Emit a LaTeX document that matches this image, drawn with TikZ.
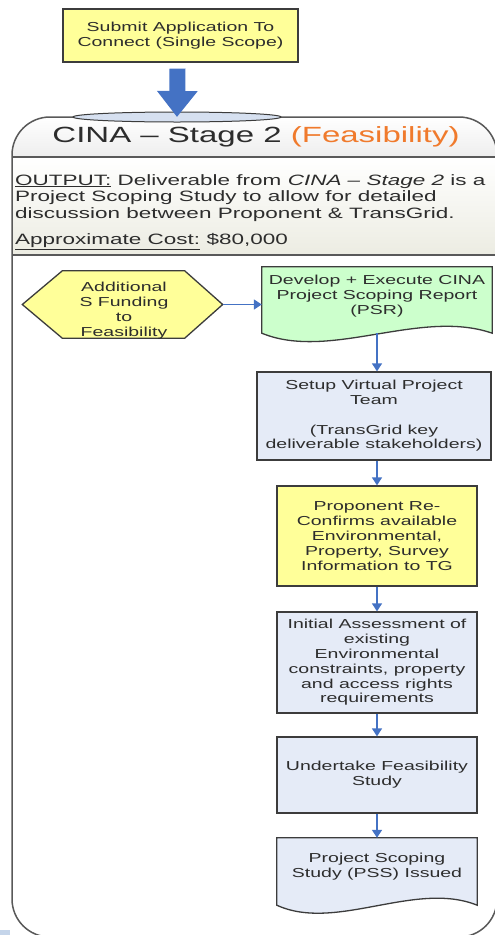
\documentclass[tikz,border=0pt]{standalone}
\usepackage{fontspec}
\setmainfont{Liberation Sans}[FakeStretch=1.5]
\usetikzlibrary{arrows.meta,shapes.geometric,calc}
\definecolor{boxyellow}{RGB}{255,255,153}
\definecolor{boxgreen}{RGB}{204,255,204}
\definecolor{boxblue}{RGB}{229,235,247}
\definecolor{flowblue}{RGB}{68,114,196}
\definecolor{capblue}{RGB}{214,224,240}
\definecolor{titleorange}{RGB}{240,122,44}
\definecolor{txt}{RGB}{45,45,45}
\definecolor{edge}{RGB}{60,60,60}
\definecolor{artifact}{RGB}{197,213,234}
\pgfdeclarelayer{back}
\pgfdeclarelayer{mid}
\pgfsetlayers{back,mid,main}
\newcommand\bodyfont{\fontsize{13pt}{14.8pt}\selectfont}
\newcommand\outfont{\fontsize{15pt}{16.5pt}\selectfont}
\newcommand\titlefont{\fontsize{22pt}{24pt}\selectfont}
\tikzset{
  frameline/.style={draw=edge!85, line width=1.5pt},
  boxbase/.style={draw=edge, line width=1.3pt, inner sep=0pt, align=center, font=\bodyfont, text=txt},
  yellowbox/.style={boxbase, fill=boxyellow},
  bluebox/.style={boxbase, fill=boxblue},
  shapeholder/.style={inner sep=0pt},
  plaintext/.style={align=center, font=\bodyfont, text=txt, inner sep=0pt},
  docline/.style={draw=edge, line width=1.3pt},
  flow/.style={draw=flowblue, line width=1.5pt, -{Triangle[width=10pt,length=8pt]}},
  bigarrow/.style={draw=flowblue, line width=16pt, -{Triangle[width=39pt,length=26pt]}},
}
\begin{document}
\begin{tikzpicture}[x=1pt,y=-1pt]
\useasboundingbox (0,0) rectangle (495,935);

% container
\begin{pgfonlayer}{back}
  \path[fill=white,rounded corners=38pt] (12,937) -- (12,117) -- (497,117) -- (497,937) -- cycle;
  \begin{scope}
    \clip[rounded corners=38pt] (12,937) -- (12,117) -- (497,117) -- (497,937) -- cycle;
    \shade[top color=white,bottom color=gray!14] (0,117) rectangle (497,157);
    \shade[top color=white,bottom color={rgb,255:red,236;green,236;blue,226}] (0,157) rectangle (497,255);
  \end{scope}
  \draw[frameline] (12,157) -- (497,157);
  \draw[frameline] (12,255) -- (497,255);
  \draw[frameline,rounded corners=38pt] (12,937) -- (12,117) -- (497,117) -- (497,937) -- cycle;
  \fill[artifact] (0,930) rectangle (10,935);
\end{pgfonlayer}

% top
\node[yellowbox, minimum width=235pt, minimum height=53pt] (submit) at (180.5,35.5)
  {Submit Application To\\Connect (Single Scope)};
\node[ellipse, draw=edge, line width=1pt, fill=capblue, minimum width=208pt, minimum height=10pt, inner sep=0pt] (cap) at (177,117) {};
\draw[bigarrow] ([xshift=-3pt,yshift=-6pt]submit.south) -- (cap.center);

% title and output
\node[inner sep=0pt, text=txt, font=\titlefont] (title) at (256,137)
  {CINA – Stage 2 \textcolor{titleorange}{(Feasibility)}};
\node[inner sep=0pt, anchor=west, align=left, font=\outfont, text=txt] (output) at (15,212)
  {\underline{OUTPUT:} Deliverable from \textit{CINA – Stage 2} is a\\
   Project Scoping Study to allow for detailed\\
   discussion between Proponent \& TransGrid.\\[10pt]
   \underline{Approximate Cost:} \$80,000};

% hexagon
\node[shapeholder, minimum width=200pt, minimum height=67pt] (fund) at (122.5,304.5) {};
\node[plaintext] (fundtext) at (124,310.5) {Additional\\S Funding\\to\\Feasibility};
\begin{pgfonlayer}{mid}
  \draw[docline, fill=boxyellow] ([xshift=40pt]fund.north west) -- ([xshift=-38pt]fund.north east)
    -- (fund.east) -- ([xshift=-38pt]fund.south east) -- ([xshift=40pt]fund.south west)
    -- (fund.west) -- cycle;
\end{pgfonlayer}

% PSR document
\node[shapeholder, minimum width=230pt, minimum height=66pt] (psr) at (377,300) {};
\node[plaintext] (psrtext) at (377,296) {Develop + Execute CINA\\Project Scoping Report\\(PSR)};
\begin{pgfonlayer}{mid}
  \draw[docline, fill=boxgreen] (psr.south west) -- (psr.north west) -- (psr.north east) -- (psr.south east)
    .. controls ([xshift=-72pt,yshift=25pt]psr.south east) and ([xshift=68pt,yshift=-28pt]psr.south west) .. (psr.south west) -- cycle;
\end{pgfonlayer}

% boxes
\node[bluebox, minimum width=234pt, minimum height=88pt] (setup) at (374,416)
  {Setup Virtual Project\\Team\\~\\(TransGrid key\\deliverable stakeholders)};
\node[yellowbox, minimum width=200pt, minimum height=100pt] (prop) at (377,536)
  {Proponent Re-\\Confirms available\\Environmental,\\Property, Survey\\Information to TG};
\node[bluebox, minimum width=200pt, minimum height=101pt] (init) at (377,662.5)
  {Initial Assessment of\\existing\\Environmental\\constraints, property\\and access rights\\requirements};
\node[bluebox, minimum width=200pt, minimum height=76pt] (under) at (377,775)
  {Undertake Feasibility\\Study};

% PSS document
\node[shapeholder, minimum width=200pt, minimum height=67pt] (pss) at (377,871.5) {};
\node[plaintext] (psstext) at (377,866.5) {Project Scoping\\Study (PSS) Issued};
\begin{pgfonlayer}{mid}
  \draw[docline, fill=boxblue] (pss.south west) -- (pss.north west) -- (pss.north east) -- (pss.south east)
    .. controls ([xshift=-62pt,yshift=25pt]pss.south east) and ([xshift=59pt,yshift=-27pt]pss.south west) .. (pss.south west) -- cycle;
\end{pgfonlayer}

% connectors
\draw[flow] (fund.east) -- (fund.east -| psr.west);
\draw[flow] (psr.south) -- (psr.south |- setup.north);
\draw[flow] (prop.north |- setup.south) -- (prop.north);
\draw[flow] (prop.south) -- (init.north);
\draw[flow] (init.south) -- (under.north);
\draw[flow] (under.south) -- (pss.north);
\end{tikzpicture}
\end{document}
